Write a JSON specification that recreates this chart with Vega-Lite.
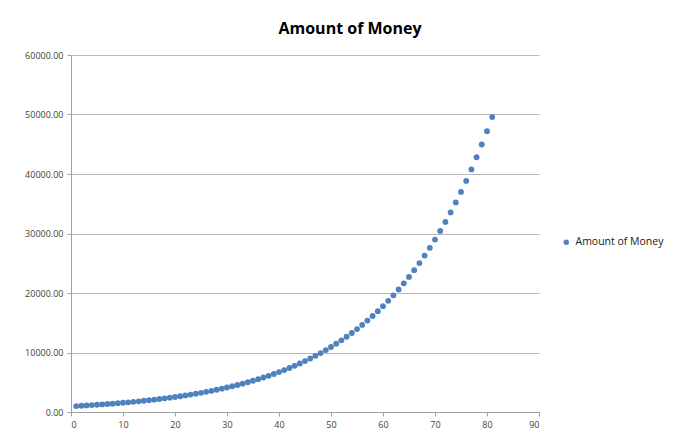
{
  "$schema": "https://vega.github.io/schema/vega-lite/v6.json",
  "autosize": {"type": "none"},
  "padding": {"left": 71, "top": 55, "right": 157, "bottom": 25},
  "width": 468,
  "height": 357,
  "background": "white",
  "title": {"text": "Amount of Money", "font": "Open Sans", "fontSize": 16, "fontWeight": "bold", "color": "#000000", "offset": 14, "dx": 45},
  "data": {"values": [
    {"n": 1, "amount": 1000.00}, {"n": 2, "amount": 1050.00}, {"n": 3, "amount": 1102.50}, {"n": 4, "amount": 1157.63},
    {"n": 5, "amount": 1215.51}, {"n": 6, "amount": 1276.28}, {"n": 7, "amount": 1340.10}, {"n": 8, "amount": 1407.10},
    {"n": 9, "amount": 1477.46}, {"n": 10, "amount": 1551.33}, {"n": 11, "amount": 1628.89}, {"n": 12, "amount": 1710.34},
    {"n": 13, "amount": 1795.86}, {"n": 14, "amount": 1885.65}, {"n": 15, "amount": 1979.93}, {"n": 16, "amount": 2078.93},
    {"n": 17, "amount": 2182.87}, {"n": 18, "amount": 2292.02}, {"n": 19, "amount": 2406.62}, {"n": 20, "amount": 2526.95},
    {"n": 21, "amount": 2653.30}, {"n": 22, "amount": 2785.96}, {"n": 23, "amount": 2925.26}, {"n": 24, "amount": 3071.52},
    {"n": 25, "amount": 3225.10}, {"n": 26, "amount": 3386.35}, {"n": 27, "amount": 3555.67}, {"n": 28, "amount": 3733.46},
    {"n": 29, "amount": 3920.13}, {"n": 30, "amount": 4116.14}, {"n": 31, "amount": 4321.94}, {"n": 32, "amount": 4538.04},
    {"n": 33, "amount": 4764.94}, {"n": 34, "amount": 5003.19}, {"n": 35, "amount": 5253.35}, {"n": 36, "amount": 5516.02},
    {"n": 37, "amount": 5791.82}, {"n": 38, "amount": 6081.41}, {"n": 39, "amount": 6385.48}, {"n": 40, "amount": 6704.75},
    {"n": 41, "amount": 7039.99}, {"n": 42, "amount": 7391.99}, {"n": 43, "amount": 7761.59}, {"n": 44, "amount": 8149.67},
    {"n": 45, "amount": 8557.15}, {"n": 46, "amount": 8985.01}, {"n": 47, "amount": 9434.26}, {"n": 48, "amount": 9905.97},
    {"n": 49, "amount": 10401.27}, {"n": 50, "amount": 10921.33}, {"n": 51, "amount": 11467.40}, {"n": 52, "amount": 12040.77},
    {"n": 53, "amount": 12642.81}, {"n": 54, "amount": 13274.95}, {"n": 55, "amount": 13938.70}, {"n": 56, "amount": 14635.63},
    {"n": 57, "amount": 15367.42}, {"n": 58, "amount": 16135.79}, {"n": 59, "amount": 16942.58}, {"n": 60, "amount": 17789.71},
    {"n": 61, "amount": 18679.19}, {"n": 62, "amount": 19613.15}, {"n": 63, "amount": 20593.81}, {"n": 64, "amount": 21623.50},
    {"n": 65, "amount": 22704.67}, {"n": 66, "amount": 23839.91}, {"n": 67, "amount": 25031.90}, {"n": 68, "amount": 26283.50},
    {"n": 69, "amount": 27597.67}, {"n": 70, "amount": 28977.56}, {"n": 71, "amount": 30426.43}, {"n": 72, "amount": 31947.76},
    {"n": 73, "amount": 33545.14}, {"n": 74, "amount": 35222.40}, {"n": 75, "amount": 36983.52}, {"n": 76, "amount": 38832.70},
    {"n": 77, "amount": 40774.33}, {"n": 78, "amount": 42813.05}, {"n": 79, "amount": 44953.71}, {"n": 80, "amount": 47201.39},
    {"n": 81, "amount": 49561.46}
  ]},
  "mark": {"type": "circle", "size": 34, "opacity": 1},
  "encoding": {
    "x": {"field": "n", "type": "quantitative", "scale": {"domain": [0, 90], "nice": false},
      "axis": {"values": [0,10,20,30,40,50,60,70,80,90], "title": null, "grid": false, "domainColor": "#a0a0a0", "tickColor": "#a0a0a0", "tickSize": 4, "labelFont": "Open Sans", "labelFontSize": 9, "labelColor": "#404040", "labelPadding": 4}},
    "y": {"field": "amount", "type": "quantitative", "scale": {"domain": [0, 60000], "nice": false},
      "axis": {"values": [0,10000,20000,30000,40000,50000,60000], "format": ".2f", "title": null, "grid": true, "gridColor": "#b8b8b8", "domainColor": "#a0a0a0", "tickColor": "#a0a0a0", "tickSize": 4, "labelFont": "Open Sans", "labelFontSize": 9, "labelColor": "#404040", "labelPadding": 4}},
    "color": {"datum": "Amount of Money", "scale": {"range": ["#4f81bd"]},
      "legend": {"title": null, "orient": "none", "legendX": 490, "legendY": 182, "symbolType": "circle", "symbolSize": 30, "labelOffset": 4, "labelFont": "Open Sans", "labelFontSize": 10.5, "labelColor": "#202020"}}
  },
  "config": {"view": {"stroke": null}}
}
